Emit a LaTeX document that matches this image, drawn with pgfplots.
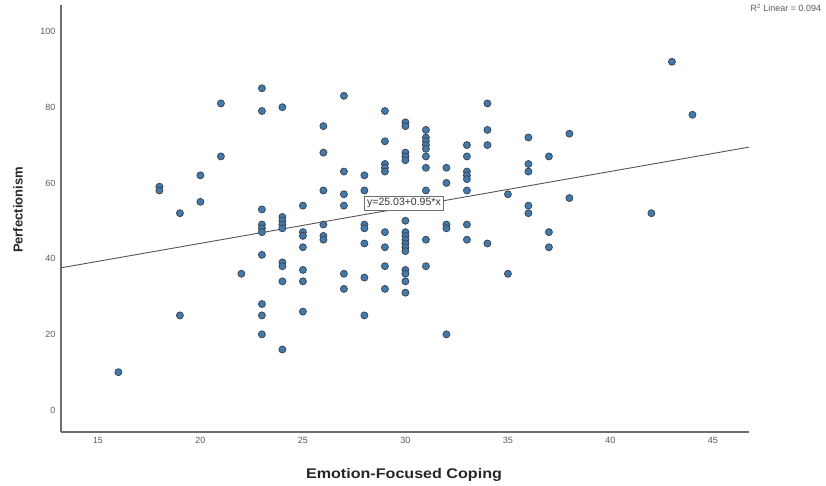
\documentclass[border=0pt]{standalone}
\usepackage{pgfplots}
\pgfplotsset{compat=1.18}
\usepackage{fontspec}
\setmainfont{Liberation Sans}

\definecolor{dotfill}{RGB}{66,122,172}
\definecolor{dotedge}{RGB}{60,72,88}
\definecolor{axisgray}{RGB}{110,110,110}
\definecolor{ticktext}{RGB}{90,90,90}
\definecolor{fitline}{RGB}{85,85,85}

\begin{document}
\begin{tikzpicture}
\useasboundingbox (0,0) rectangle (826pt,486pt);
\begin{axis}[
  at={(61pt,54pt)}, anchor=south west,
  scale only axis, width=688pt, height=427pt,
  xmin=13.2, xmax=46.76, ymin=-5.8, ymax=107,
  axis lines=left, axis line style={-, draw=axisgray, line width=1.1pt},
  xtick={15,20,...,45}, ytick={0,20,...,100},
  tick style={draw=none},
  /pgf/number format/assume math mode=true,
  tick label style={font=\fontsize{9}{10}\selectfont, text=ticktext},
  clip=false,
]
% fitted line y = 25.03 + 0.95x across the x range
\addplot[fitline, line width=0.9pt] coordinates {(13.2,37.57) (46.76,69.45)};

\addplot[only marks, mark=*, mark size=3.5pt,
  mark options={fill=dotfill, draw=dotedge, line width=0.8pt}]
  table {
x y
16 10
18 59
18 58
19 52
19 25
20 62
20 55
21 81
21 67
22 36
23 85
23 79
23 53
23 49
23 48
23 47
23 41
23 28
23 25
23 20
24 80
24 51
24 50
24 49
24 48
24 39
24 38
24 34
24 16
25 54
25 47
25 46
25 43
25 37
25 34
25 26
26 75
26 68
26 58
26 49
26 46
26 45
27 83
27 63
27 57
27 54
27 36
27 32
28 62
28 58
28 49
28 48
28 44
28 35
28 25
29 79
29 71
29 65
29 64
29 63
29 47
29 43
29 38
29 32
30 76
30 75
30 68
30 67
30 66
30 50
30 47
30 46
30 45
30 44
30 43
30 42
30 37
30 36
30 34
30 31
31 74
31 72
31 71
31 70
31 69
31 67
31 64
31 58
31 45
31 38
32 64
32 60
32 49
32 48
32 20
33 70
33 67
33 63
33 62
33 61
33 58
33 49
33 45
34 81
34 74
34 70
34 44
35 57
35 36
36 72
36 65
36 63
36 54
36 52
37 67
37 47
37 43
38 73
38 56
42 52
43 92
44 78
};

\node[draw=axisgray, fill=white, line width=0.6pt, inner sep=2.5pt,
  font=\fontsize{10.5}{11}\selectfont, text=black!80]
  at (axis cs:29.93,54.6) {y=25.03+0.95*x};
\end{axis}
% axis titles
\node[font=\fontsize{14}{16}\selectfont\bfseries, text=black!85]
  at (404pt,11.5pt) {\scalebox{1.15}[1]{Emotion-Focused Coping}};
\node[font=\fontsize{13}{15}\selectfont\bfseries, text=black!85, rotate=90]
  at (18pt,276pt) {Perfectionism};
\node[anchor=west, font=\fontsize{9}{10}\selectfont, text=ticktext]
  at (747pt,478pt) {R\textsuperscript{2} Linear = 0.094};
\end{tikzpicture}
\end{document}
